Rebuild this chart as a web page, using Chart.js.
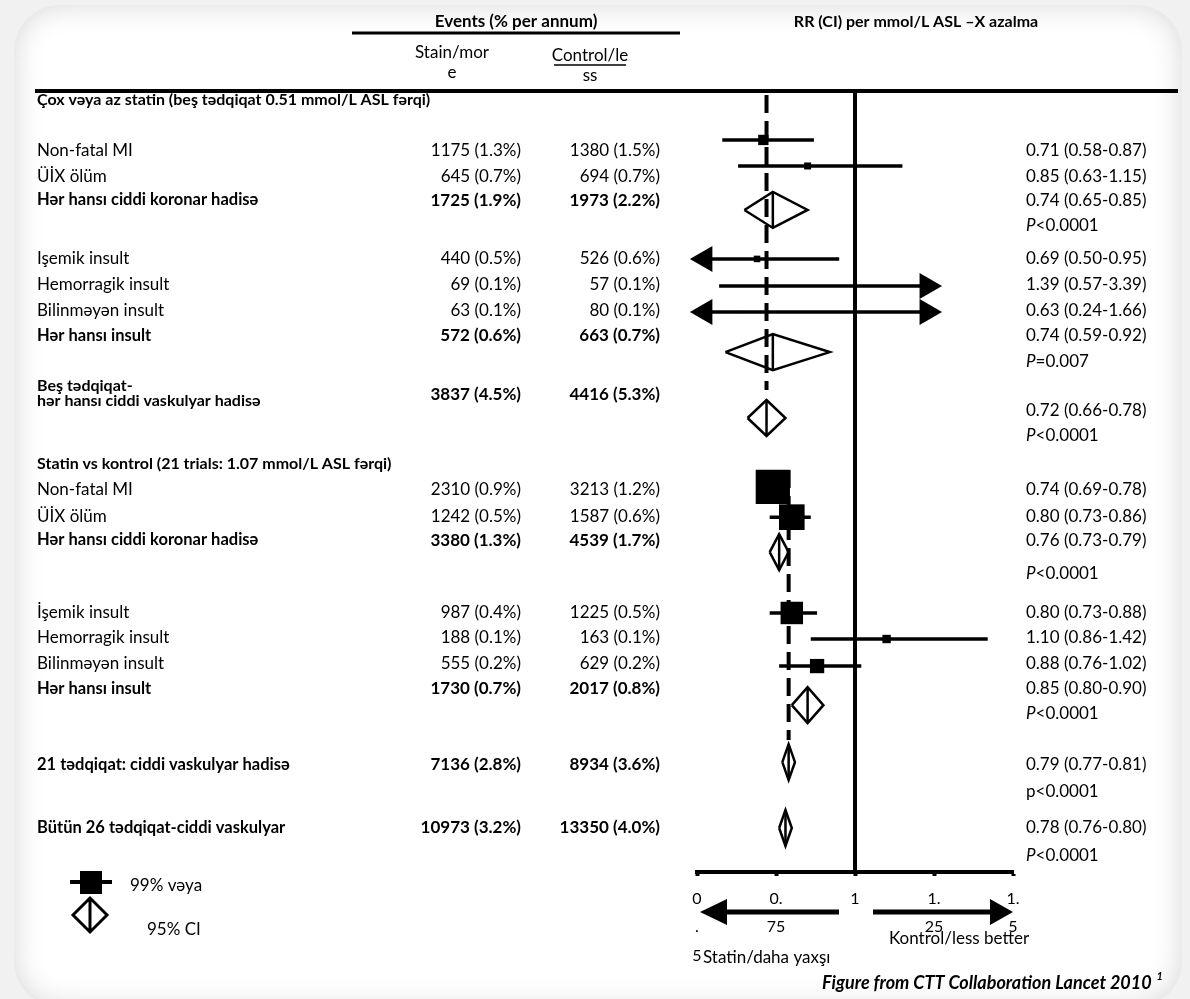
<!DOCTYPE html>
<html>
<head>
<meta charset="utf-8">
<script src="https://cdn.jsdelivr.net/npm/chart.js@4/dist/chart.umd.min.js"></script>
<style>
html,body{margin:0;padding:0;width:1190px;height:999px;overflow:hidden;background:#f1f1f1;}
#card{position:absolute;left:14px;top:5px;width:1168px;height:1002px;border-radius:46px;background:#fff;box-shadow:inset 0 0 30px rgba(0,0,0,0.16);}
#c{position:absolute;left:0;top:0;}
</style>
</head>
<body>
<div id="card"></div>
<canvas id="c" width="1190" height="999"></canvas>
<script>
// ---------------- DATA ----------------
const sectionTitles = [
  'Çox vəya az statin (beş tədqiqat 0.51 mmol/L ASL fərqi)',
  'Statin vs kontrol (21 trials: 1.07 mmol/L ASL fərqi)'
];
const outcomeLabels = [
  'Non-fatal MI', 'ÜİX ölüm', 'Hər hansı ciddi koronar hadisə',
  'Işemik insult', 'Hemorragik insult', 'Bilinməyən insult', 'Hər hansı insult',
  ['Beş tədqiqat-', 'hər hansı ciddi vaskulyar hadisə'],
  'Non-fatal MI', 'ÜİX ölüm', 'Hər hansı ciddi koronar hadisə',
  'İşemik insult', 'Hemorragik insult', 'Bilinməyən insult', 'Hər hansı insult',
  '21 tədqiqat: ciddi vaskulyar hadisə', 'Bütün 26 tədqiqat-ciddi vaskulyar'
];
const isSummary = [false,false,true,false,false,false,true,true,false,false,true,false,false,false,true,true,true];
const statinEvents  = [1175,645,1725,440,69,63,572,3837,2310,1242,3380,987,188,555,1730,7136,10973];
const statinPct     = [1.3,0.7,1.9,0.5,0.1,0.1,0.6,4.5,0.9,0.5,1.3,0.4,0.1,0.2,0.7,2.8,3.2];
const controlEvents = [1380,694,1973,526,57,80,663,4416,3213,1587,4539,1225,163,629,2017,8934,13350];
const controlPct    = [1.5,0.7,2.2,0.6,0.1,0.1,0.7,5.3,1.2,0.6,1.7,0.5,0.1,0.2,0.8,3.6,4.0];
const rr     = [0.71,0.85,0.74,0.69,1.39,0.63,0.74,0.72,0.74,0.80,0.76,0.80,1.10,0.88,0.85,0.79,0.78];
const ciLow  = [0.58,0.63,0.65,0.50,0.57,0.24,0.59,0.66,0.69,0.73,0.73,0.73,0.86,0.76,0.80,0.77,0.76];
const ciHigh = [0.87,1.15,0.85,0.95,3.39,1.66,0.92,0.78,0.78,0.86,0.79,0.88,1.42,1.02,0.90,0.81,0.80];
const pText  = [null,null,'P<0.0001',null,null,null,'P=0.007','P<0.0001',null,null,'P<0.0001',null,null,null,'P<0.0001','p<0.0001','P<0.0001'];
const sectionOverallRR = [0.72, 0.79];
const xTickValues = [0.5, 0.75, 1, 1.25, 1.5];
const xTickLabels = [['0','.','5'], ['0.','75'], ['1'], ['1.','25'], ['1.','5']];

// ---------------- LAYOUT (row slots, styles) ----------------
const markSlot = [1.88,2.88,4.57,6.45,7.49,8.49,10.03,12.56,15.21,16.37,17.71,20.05,21.05,22.09,23.59,25.78,28.31];
const textSlot = [2.27,3.27,4.19,6.45,7.45,8.45,9.41,11.64,15.29,16.33,17.25,20.02,21.01,22.01,22.97,25.86,28.31];
const rrSlot   = [2.27,3.27,4.19,6.45,7.45,8.45,9.41,12.26,15.29,16.33,17.25,20.02,21.01,22.01,22.97,25.86,28.31];
const pSlot    = [null,null,5.15,null,null,null,10.41,13.25,null,null,18.52,null,null,null,23.93,26.89,29.35];
const sectionSlot = [0.35, 14.33];
const dashRange = [[0.15, 11.49], [14.56, 24.93]];
const DIAMOND_HALF = 0.69;
const ARROW_L = 0.525, ARROW_R = 1.228, ARROW_R_PX = 15;
const COL = {label: 37, statin: 521, control: 660, rr: 1026};
const FONT = 'Lato';
const FS = 17, FSB = 16.5, FSBN = 17;

function fmtEv(n, p){ return n + ' (' + p.toFixed(1) + '%)'; }
function fmtRR(i){ return rr[i].toFixed(2) + ' (' + ciLow[i].toFixed(2) + '-' + ciHigh[i].toFixed(2) + ')'; }

// ---------------- DATASETS ----------------
const datasets = [];
const black = '#000';
datasets.push({type:'line', data:[{x:1,y:0},{x:1,y:30}], borderColor:black, borderWidth:4, pointRadius:0, order:30, clip:false});
sectionOverallRR.forEach((v,k)=>{
  datasets.push({type:'line', data:[{x:v,y:dashRange[k][0]},{x:v,y:dashRange[k][1]}], borderColor:black, borderWidth:4,
    borderDash:[18,8], pointRadius:0, order:29, clip:false});
});
const sqPts = [], sqR = [], arrowPts = [], arrowRot = [];
rr.forEach((v,i)=>{
  const y = markSlot[i];
  if (isSummary[i]) {
    datasets.push({type:'line', data:[{x:ciLow[i],y:y},{x:v,y:y-DIAMOND_HALF},{x:ciHigh[i],y:y},{x:v,y:y+DIAMOND_HALF},{x:ciLow[i],y:y}],
      borderColor:black, borderWidth:2.5, pointRadius:0, fill:false, tension:0, order:5, clip:false, borderJoinStyle:'miter'});
    datasets.push({type:'line', data:[{x:v,y:y-DIAMOND_HALF},{x:v,y:y+DIAMOND_HALF}],
      borderColor:black, borderWidth:2.5, pointRadius:0, order:5, clip:false});
    return;
  }
  const leftArrow = ciLow[i] <= xTickValues[0];
  const rightArrow = ciHigh[i] > xTickValues[xTickValues.length-1];
  const x0 = leftArrow ? ARROW_L : ciLow[i];
  const x1 = rightArrow ? ARROW_R : ciHigh[i];
  datasets.push({type:'line', data:[{x:x0,y:y},{x:x1,y:y}], borderColor:black, borderWidth:3.5, pointRadius:0, order:10, clip:false});
  if (leftArrow) { arrowPts.push({x:ARROW_L,y:y}); arrowRot.push(-90); }
  if (rightArrow) { arrowPts.push({x:ARROW_R,y:y}); arrowRot.push(90); }
  if (v >= x0 && v <= x1) {
    const side = 4.2 / Math.log(ciHigh[i]/ciLow[i]);
    sqPts.push({x:v,y:y}); sqR.push(side/Math.SQRT2);
  }
});
datasets.push({type:'scatter', data:arrowPts, pointStyle:'triangle', pointRadius:ARROW_R_PX, pointRotation:arrowRot,
  backgroundColor:black, borderColor:black, borderWidth:0, order:8, clip:false});
datasets.push({type:'scatter', data:sqPts, pointStyle:'rect', pointRadius:sqR, backgroundColor:black, borderColor:black,
  borderWidth:0, order:7, clip:false});

// ---------------- TEXT / DECORATION PLUGIN ----------------
function txt(ctx, s, x, y, o){
  o = o || {};
  ctx.save();
  ctx.font = (o.italic?'italic ':'') + (o.bold?'bold ':'') + (o.size||FS) + 'px ' + FONT;
  ctx.fillStyle = '#000';
  ctx.textAlign = o.align || 'left';
  ctx.textBaseline = 'middle';
  ctx.fillText(s, x, y);
  const w = ctx.measureText(s).width;
  ctx.restore();
  return w;
}
function pval(ctx, s, x, y){
  if (s[0] === 'P') { const w = txt(ctx,'P',x,y,{italic:true}); txt(ctx,s.slice(1),x+w,y); }
  else txt(ctx,s,x,y);
}
function seg(ctx, x0, y0, x1, y1, w){
  ctx.save(); ctx.strokeStyle='#000'; ctx.lineWidth=w; ctx.beginPath(); ctx.moveTo(x0,y0); ctx.lineTo(x1,y1); ctx.stroke(); ctx.restore();
}
function arrow(ctx, xFrom, xTip, y, headLen, headHalf, w){
  const dir = Math.sign(xTip - xFrom);
  const base = xTip - dir*headLen;
  seg(ctx, xFrom, y, base, y, w);
  ctx.save(); ctx.fillStyle='#000'; ctx.beginPath();
  ctx.moveTo(xTip,y); ctx.lineTo(base,y-headHalf); ctx.lineTo(base,y+headHalf); ctx.closePath(); ctx.fill(); ctx.restore();
}
const tablePlugin = {
  id: 'forestTable',
  afterDraw(chart){
    const ctx = chart.ctx, ys = chart.scales.y, xs = chart.scales.x;
    const Y = s => ys.getPixelForValue(s);
    // header
    txt(ctx,'Events (% per annum)',516,22,{bold:true,align:'center',size:17});
    seg(ctx,352,33,680,33,3);
    txt(ctx,'RR (CI) per mmol/L ASL –X azalma',916,22,{bold:true,align:'center',size:16});
    txt(ctx,'Stain/mor',452,53,{align:'center'});
    txt(ctx,'e',452,73,{align:'center'});
    txt(ctx,'Control/le',590,56,{align:'center'});
    seg(ctx,554,65,626,65,1.5);
    txt(ctx,'ss',590,76,{align:'center'});
    seg(ctx,35,ys.top,1178,ys.top,4);
    sectionTitles.forEach((t,k)=>txt(ctx,t,COL.label,Y(sectionSlot[k]),{bold:true,size:16}));
    outcomeLabels.forEach((lab,i)=>{
      const y = Y(textSlot[i]); const b = isSummary[i];
      if (Array.isArray(lab)) lab.forEach((l,j)=>txt(ctx,l,COL.label,y-8+j*15,{bold:b,size:16}));
      else txt(ctx,lab,COL.label,y,{bold:b,size:b?FSB:FS});
      txt(ctx,fmtEv(statinEvents[i],statinPct[i]),COL.statin,y,{bold:b,align:'right',size:b?FSBN:FS});
      txt(ctx,fmtEv(controlEvents[i],controlPct[i]),COL.control,y,{bold:b,align:'right',size:b?FSBN:FS});
      txt(ctx,fmtRR(i),COL.rr,Y(rrSlot[i]));
      if (pText[i]) pval(ctx,pText[i],COL.rr,Y(pSlot[i]));
    });
    // legend
    seg(ctx,70,882,112,882,4);
    ctx.fillStyle='#000'; ctx.fillRect(80,871,22,23);
    txt(ctx,'99% vəya',130,886);
    ctx.save(); ctx.strokeStyle='#000'; ctx.lineWidth=3; ctx.lineJoin='miter'; ctx.beginPath();
    ctx.moveTo(73,915); ctx.lineTo(90,898); ctx.lineTo(107,915); ctx.lineTo(90,932); ctx.closePath();
    ctx.moveTo(90,898); ctx.lineTo(90,932); ctx.stroke(); ctx.restore();
    txt(ctx,'95% CI',147,930);
    // direction arrows under the axis
    const p1 = xs.getPixelForValue(1), p0 = xs.getPixelForValue(xTickValues[0]), pN = xs.getPixelForValue(xTickValues[xTickValues.length-1]);
    arrow(ctx, p1-16, p0+3, 912, 27, 13, 5);
    arrow(ctx, p1+18, pN, 912, 23, 13, 5);
    txt(ctx,'Kontrol/less better',889,939);
    txt(ctx,'Statin/daha yaxşı',703,958);
    // footnote
    const foot = 'Figure from CTT Collaboration Lancet 2010 ';
    ctx.save(); ctx.font = 'italic bold 11px ' + FONT; const supW = ctx.measureText('1').width; ctx.restore();
    txt(ctx,foot,1163-supW-1,983,{bold:true,italic:true,align:'right',size:18});
    txt(ctx,'1',1163-supW,976,{bold:true,italic:true,size:11});
  }
};

function build(){
  new Chart(document.getElementById('c'), {
    type: 'scatter',
    data: {datasets: datasets},
    options: {
      responsive: false, animation: false, devicePixelRatio: 1,
      layout: {padding: {left: 697, right: 1190-1013, top: 91, bottom: 0}},
      plugins: {legend: {display: false}, tooltip: {enabled: false}},
      scales: {
        x: {
          type: 'linear', min: xTickValues[0], max: xTickValues[xTickValues.length-1],
          afterBuildTicks: s => { s.ticks = xTickValues.map(v => ({value: v})); },
          afterFit: s => { s.height = 999-872; },
          ticks: {autoSkip: false, maxRotation: 0, minRotation: 0, padding: 8, color: '#000',
            font: {family: FONT, size: 16, lineHeight: 1.8}, callback: (v, i) => xTickLabels[i]},
          grid: {display: true, drawOnChartArea: false, drawTicks: true, tickLength: 4, tickWidth: 4, tickColor: '#000'},
          border: {display: true, color: '#000', width: 4}
        },
        y: {type: 'linear', min: 0, max: 30, reverse: true, display: false}
      }
    },
    plugins: [tablePlugin]
  });
}
const fontLoads = document.fonts ? Promise.all([
  document.fonts.load('15px Lato'), document.fonts.load('bold 15px Lato'),
  document.fonts.load('italic 15px Lato'), document.fonts.load('italic bold 15px Lato')
]).catch(()=>{}) : Promise.resolve();
fontLoads.then(build, build);
</script>
</body>
</html>
